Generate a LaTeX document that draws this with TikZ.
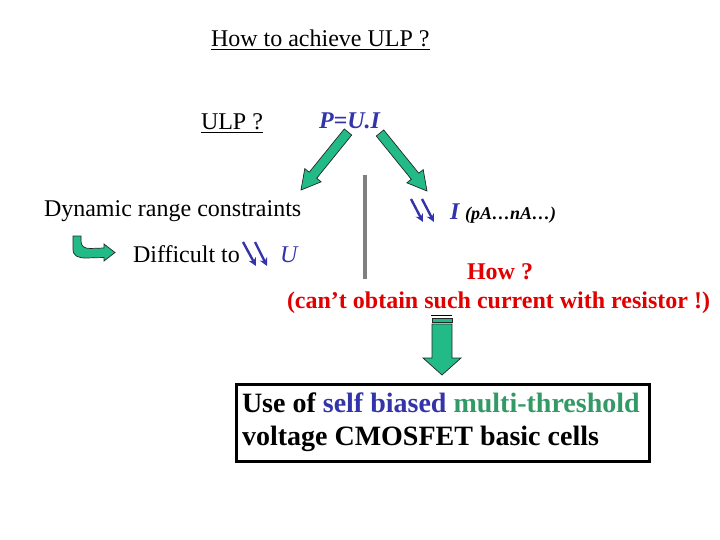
\documentclass[tikz,border=0pt]{standalone}
\usepackage{fontspec}
\setmainfont{Liberation Serif}
\usetikzlibrary{calc,arrows.meta}
\definecolor{blueT}{HTML}{3333AA}
\definecolor{greenT}{HTML}{339966}
\definecolor{redT}{HTML}{E00000}
\definecolor{arrowgreen}{HTML}{22BB88}
\definecolor{bargray}{HTML}{808080}
\tikzset{
  txt/.style={anchor=base west, inner sep=0pt, outer sep=0pt},
  fatarrow/.style={fill=arrowgreen, draw=black!85, line width=0.7pt, line join=miter},
  bluearr/.style={draw=blueT, line width=2.4pt, -{Stealth[length=8pt,width=8pt]}},
}
\newcommand\fatarr[5]{%
  \coordinate (fa-n) at ($(#2)!#5!(#1)$);
  \filldraw[fatarrow] ($(#1)!#3!90:(#2)$) -- ($(fa-n)!#3!-90:(#1)$) -- ($(fa-n)!#4!-90:(#1)$) -- (#2)
    -- ($(fa-n)!#4!90:(#1)$) -- ($(fa-n)!#3!90:(#1)$) -- ($(#1)!#3!-90:(#2)$) -- cycle;}
\begin{document}
\begin{tikzpicture}[x=1pt,y=-1pt]
\useasboundingbox (0,0) rectangle (720,540);
\fontsize{24}{28}\selectfont
% title
\node[txt] (title) at (211,47) {\underline{How to achieve ULP ?}};
\node[txt] (ulp) at (201,130) {\underline{ULP ?}};
\node[txt, text=blueT] (pui) at (319,129) {\bfseries\itshape P=U.I};
% fat arrows from P=U.I
\coordinate (la) at (348,132);
\coordinate (lb) at (301,190);
\coordinate (ra) at (380,133);
\coordinate (rb) at (427,191);
\fatarr{la}{lb}{4.8pt}{10.5pt}{19pt}
\fatarr{ra}{rb}{4.8pt}{10.5pt}{19pt}
% gray bar
\fill[bargray] (363,175) rectangle (367,279);
% left branch
\node[txt] (dyn) at (44,217) {Dynamic range constraints};
\filldraw[fatarrow] (73,236) -- (73,249) .. controls (73,256) and (78,258) .. (86,258) -- (104,257.5)
  -- (104,261) -- (115,252.5) -- (104,244) -- (104,248) -- (90,248.5)
  .. controls (84,248.5) and (81,246) .. (81,241) -- (81,236) -- cycle;
\node[txt] (diff) at (133,262) {Difficult to};
\coordinate (d1a) at (243,242); \coordinate (d1b) at (256,266);
\coordinate (d2a) at (255,242); \coordinate (d2b) at (267,266);
\draw[bluearr] (d1a) -- (d1b);
\draw[bluearr] (d2a) -- (d2b);
\node[txt, text=blueT] (u) at (280,262) {\itshape U};
% right branch
\coordinate (i1a) at (411,199); \coordinate (i1b) at (423,222);
\coordinate (i2a) at (422,199); \coordinate (i2b) at (434,222);
\draw[bluearr] (i1a) -- (i1b);
\draw[bluearr] (i2a) -- (i2b);
\node[txt, text=blueT] (ii) at (450,220) {\bfseries\itshape I};
\node[txt] (pa) at (465,220) {\fontsize{18}{20}\selectfont\bfseries\itshape (pA…nA…)};
\node[txt, text=redT] (how) at (467,279) {\bfseries How ?};
\node[txt, text=redT] (cant) at (287,308) {\bfseries (can’t obtain such current with resistor !)};
% down arrow
\draw[line width=1.3pt] (431,315.5) -- (452,315.5);
\filldraw[fatarrow] (432,318.5) rectangle (452,322);
\coordinate (da) at (442,324);
\coordinate (db) at (442,375);
\fatarr{da}{db}{10pt}{19pt}{17pt}
% box
\node[draw, line width=2.6pt, minimum width=413pt, minimum height=77pt, anchor=north west, inner sep=0pt] (box) at (235,383) {};
\node[txt] (l1) at (242,412) {\fontsize{28}{32}\selectfont\bfseries Use of \textcolor{blueT}{self biased} \textcolor{greenT}{multi-threshold}};
\node[txt] (l2) at (242,445) {\fontsize{28}{32}\selectfont\bfseries voltage CMOSFET basic cells};
\end{tikzpicture}
\end{document}
